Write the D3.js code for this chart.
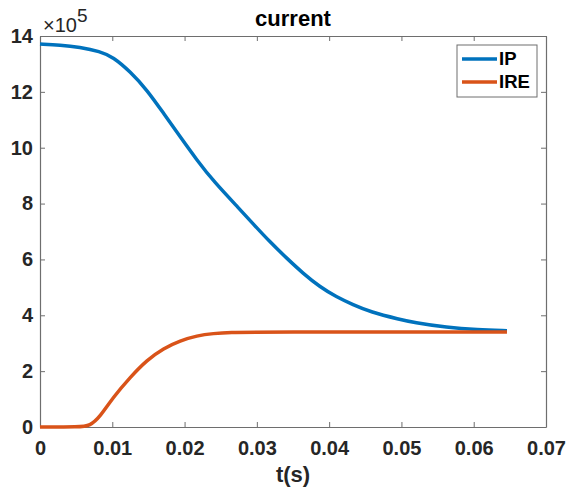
<!DOCTYPE html>
<html>
<head>
<meta charset="utf-8">
<script src="https://cdn.jsdelivr.net/npm/d3@7"></script>
<style>
  body { margin: 0; background: white; }
  text { font-family: "Liberation Sans", Arial, sans-serif; }
</style>
</head>
<body>
<script>
width = 566;
height = 491;
margin = { top: 36, right: 20, bottom: 64, left: 40 }

// time axis (s)
var t_ip = [0, 0.0028, 0.0055, 0.0083, 0.0101, 0.0125, 0.0148, 0.0171, 0.0194, 0.0217, 0.0240,
            0.0277, 0.0295, 0.0318, 0.0341, 0.0364, 0.0387, 0.0410, 0.0433, 0.0457, 0.0498,
            0.0516, 0.0563, 0.0605, 0.0646];
var ip = [1371000, 1368000, 1360000, 1345000, 1325000, 1272000, 1207000, 1123000, 1039000, 956000, 880000,
          778000, 727000, 663000, 605000, 550000, 502000, 466000, 438000, 412000, 385000,
          375000, 356000, 348000, 345000];

var t_ire = [0, 0.0055, 0.0069, 0.0083, 0.0101, 0.0125, 0.0148, 0.0171, 0.0194, 0.0217, 0.0240, 0.0263, 0.0300, 0.0646];
var ire = [0, 0, 4000, 36000, 106000, 179000, 240000, 282000, 309000, 327000, 335000, 339000, 340000, 340000];

var xTicks = [0, 0.01, 0.02, 0.03, 0.04, 0.05, 0.06, 0.07];
var yTicks = [0, 2e5, 4e5, 6e5, 8e5, 10e5, 12e5, 14e5];
var keys = ["IP", "IRE"];
var colors = ["#0072BD", "#D95319"];

var series = [
    { key: "IP", values: t_ip.map((t, i) => ({ t: t, v: ip[i] })) },
    { key: "IRE", values: t_ire.map((t, i) => ({ t: t, v: ire[i] })) }
];

x = d3.scaleLinear()
    .domain([0, 0.07])
    .range([margin.left, width - margin.right]);

y = d3.scaleLinear()
    .domain([0, 14e5])
    .range([height - margin.bottom, margin.top]);

color = d3.scaleOrdinal()
    .domain(keys)
    .range(colors);

const svg = d3.select('body')
    .append("svg")
    .attr("width", width)
    .attr("height", height)
    .attr("viewBox", [0, 0, width, height]);

svg.append('rect')
    .attr('x', margin.left)
    .attr('y', margin.top)
    .attr('width', width - margin.left - margin.right)
    .attr('height', height - margin.top - margin.bottom)
    .attr('fill', 'white');

var axisColor = '#6e6e6e';
var labelColor = '#262626';

function styleAxis(g) {
    g.select('.domain').attr('stroke', axisColor).attr('stroke-width', 1.2);
    g.selectAll('.tick line').attr('stroke', axisColor);
    g.selectAll('.tick text')
        .attr('fill', labelColor)
        .attr('font-weight', 'bold')
        .style('font-size', '20px');
}

// bottom / left with labels, top / right ticks only
svg.append("g")
    .attr("transform", `translate(0,${height - margin.bottom})`)
    .call(d3.axisBottom(x).tickValues(xTicks).tickSizeInner(-5).tickSizeOuter(0).tickPadding(14)
        .tickFormat(d => d === 0 ? "0" : d3.format(".2f")(d)))
    .call(styleAxis);

svg.append("g")
    .attr("transform", `translate(${margin.left},0)`)
    .call(d3.axisLeft(y).tickValues(yTicks).tickSizeInner(-5).tickSizeOuter(0).tickPadding(7)
        .tickFormat(d => d / 1e5))
    .call(styleAxis);

svg.append("g")
    .attr("transform", `translate(0,${margin.top})`)
    .call(d3.axisTop(x).tickValues(xTicks).tickSizeInner(-5).tickSizeOuter(0).tickFormat(""))
    .call(styleAxis);

svg.append("g")
    .attr("transform", `translate(${width - margin.right},0)`)
    .call(d3.axisRight(y).tickValues(yTicks).tickSizeInner(-5).tickSizeOuter(0).tickFormat(""))
    .call(styleAxis);

// exponent label
var expo = svg.append('text')
    .attr('x', margin.left + 3)
    .attr('y', margin.top - 4)
    .attr('fill', labelColor)
    .style('font-size', '20px')
    .text('\u00d710');
expo.append('tspan')
    .attr('dy', -10)
    .style('font-size', '19px')
    .text('5');

// lines
var line = d3.line()
    .x(d => x(d.t))
    .y(d => y(d.v))
    .curve(d3.curveBasis);

svg.append("g")
    .selectAll("path")
    .data(series)
    .join("path")
    .attr("fill", "none")
    .attr("stroke", d => color(d.key))
    .attr("stroke-width", 3.5)
    .attr("stroke-linejoin", "round")
    .attr("d", d => line(d.values));

// TITLE
svg.append('text')
    .attr('x', (margin.left + width - margin.right) / 2)
    .attr('y', margin.top - 10)
    .attr('fill', 'black')
    .attr("font-weight", "bold")
    .style("font-size", "22px")
    .attr("text-anchor", "middle")
    .text('current');

// x label
svg.append('text')
    .attr('x', (margin.left + width - margin.right) / 2)
    .attr('y', 482)
    .attr('fill', labelColor)
    .attr("font-weight", "bold")
    .style("font-size", "22px")
    .attr("text-anchor", "middle")
    .text('t(s)');

// legend
var legend = svg.append("g")
    .attr("class", "legend")
    .attr("transform", "translate(457,45)");
legend.append('rect')
    .attr('width', 80)
    .attr('height', 52)
    .attr('fill', 'white')
    .attr('stroke', axisColor)
    .attr('stroke-width', 1);
var rows = legend.selectAll('g')
    .data(keys)
    .join('g')
    .attr('transform', (d, i) => `translate(0,${14 + i * 23})`);
rows.append('line')
    .attr('x1', 5)
    .attr('x2', 40)
    .attr('stroke', d => color(d))
    .attr('stroke-width', 3.5);
rows.append('text')
    .attr('x', 42)
    .attr('dy', '0.35em')
    .attr('fill', 'black')
    .attr('font-weight', 'bold')
    .style('font-size', '18.5px')
    .text(d => d);
</script>
</body>
</html>
